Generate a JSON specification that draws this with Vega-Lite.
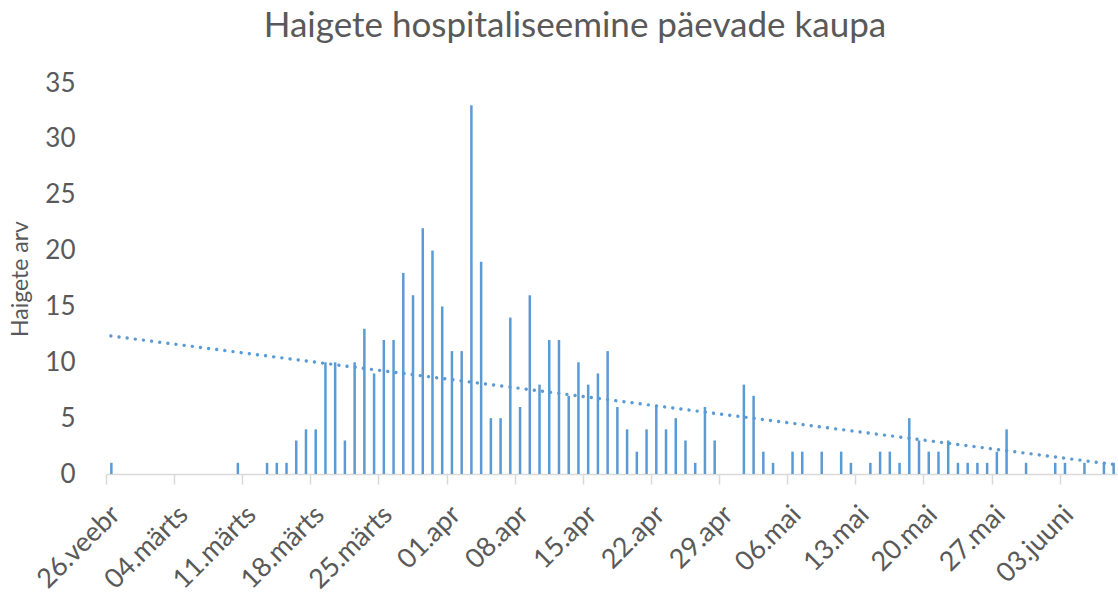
{
  "$schema": "https://vega.github.io/schema/vega-lite/v6.json",
  "autosize": "none",
  "width": 1012,
  "height": 391,
  "padding": {"left": 106, "top": 83, "right": 0, "bottom": 120},
  "background": "white",
  "config": {"view": {"stroke": null}, "font": "Lato"},
  "title": {"text": "Haigete hospitaliseemine päevade kaupa", "font": "Lato", "fontSize": 35, "fontWeight": "normal", "color": "#595959", "anchor": "middle", "dx": -37, "offset": 26},
  "data": {"values": [
    {"date": "2020-02-26", "value": 1},
    {"date": "2020-03-10", "value": 1},
    {"date": "2020-03-13", "value": 1},
    {"date": "2020-03-14", "value": 1},
    {"date": "2020-03-15", "value": 1},
    {"date": "2020-03-16", "value": 3},
    {"date": "2020-03-17", "value": 4},
    {"date": "2020-03-18", "value": 4},
    {"date": "2020-03-19", "value": 10},
    {"date": "2020-03-20", "value": 10},
    {"date": "2020-03-21", "value": 3},
    {"date": "2020-03-22", "value": 10},
    {"date": "2020-03-23", "value": 13},
    {"date": "2020-03-24", "value": 9},
    {"date": "2020-03-25", "value": 12},
    {"date": "2020-03-26", "value": 12},
    {"date": "2020-03-27", "value": 18},
    {"date": "2020-03-28", "value": 16},
    {"date": "2020-03-29", "value": 22},
    {"date": "2020-03-30", "value": 20},
    {"date": "2020-03-31", "value": 15},
    {"date": "2020-04-01", "value": 11},
    {"date": "2020-04-02", "value": 11},
    {"date": "2020-04-03", "value": 33},
    {"date": "2020-04-04", "value": 19},
    {"date": "2020-04-05", "value": 5},
    {"date": "2020-04-06", "value": 5},
    {"date": "2020-04-07", "value": 14},
    {"date": "2020-04-08", "value": 6},
    {"date": "2020-04-09", "value": 16},
    {"date": "2020-04-10", "value": 8},
    {"date": "2020-04-11", "value": 12},
    {"date": "2020-04-12", "value": 12},
    {"date": "2020-04-13", "value": 7},
    {"date": "2020-04-14", "value": 10},
    {"date": "2020-04-15", "value": 8},
    {"date": "2020-04-16", "value": 9},
    {"date": "2020-04-17", "value": 11},
    {"date": "2020-04-18", "value": 6},
    {"date": "2020-04-19", "value": 4},
    {"date": "2020-04-20", "value": 2},
    {"date": "2020-04-21", "value": 4},
    {"date": "2020-04-22", "value": 6},
    {"date": "2020-04-23", "value": 4},
    {"date": "2020-04-24", "value": 5},
    {"date": "2020-04-25", "value": 3},
    {"date": "2020-04-26", "value": 1},
    {"date": "2020-04-27", "value": 6},
    {"date": "2020-04-28", "value": 3},
    {"date": "2020-05-01", "value": 8},
    {"date": "2020-05-02", "value": 7},
    {"date": "2020-05-03", "value": 2},
    {"date": "2020-05-04", "value": 1},
    {"date": "2020-05-06", "value": 2},
    {"date": "2020-05-07", "value": 2},
    {"date": "2020-05-09", "value": 2},
    {"date": "2020-05-11", "value": 2},
    {"date": "2020-05-12", "value": 1},
    {"date": "2020-05-14", "value": 1},
    {"date": "2020-05-15", "value": 2},
    {"date": "2020-05-16", "value": 2},
    {"date": "2020-05-17", "value": 1},
    {"date": "2020-05-18", "value": 5},
    {"date": "2020-05-19", "value": 3},
    {"date": "2020-05-20", "value": 2},
    {"date": "2020-05-21", "value": 2},
    {"date": "2020-05-22", "value": 3},
    {"date": "2020-05-23", "value": 1},
    {"date": "2020-05-24", "value": 1},
    {"date": "2020-05-25", "value": 1},
    {"date": "2020-05-26", "value": 1},
    {"date": "2020-05-27", "value": 2},
    {"date": "2020-05-28", "value": 4},
    {"date": "2020-05-30", "value": 1},
    {"date": "2020-06-02", "value": 1},
    {"date": "2020-06-03", "value": 1},
    {"date": "2020-06-05", "value": 1},
    {"date": "2020-06-07", "value": 1},
    {"date": "2020-06-08", "value": 1}
  ], "format": {"parse": {"date": "date"}}},
  "layer": [
    {
      "mark": {"type": "bar", "color": "#5B9BD5", "width": {"band": 0.36}},
      "encoding": {
        "x": {
          "field": "date", "type": "temporal", "timeUnit": "utcyearmonthdate",
          "scale": {"type": "utc", "domain": [{"year": 2020, "month": 2, "date": 26, "utc": true}, {"year": 2020, "month": 6, "date": 9, "utc": true}]},
          "axis": {
            "title": null, "grid": false,
            "values": [
              {"year": 2020, "month": 2, "date": 26, "utc": true},
              {"year": 2020, "month": 3, "date": 4, "utc": true},
              {"year": 2020, "month": 3, "date": 11, "utc": true},
              {"year": 2020, "month": 3, "date": 18, "utc": true},
              {"year": 2020, "month": 3, "date": 25, "utc": true},
              {"year": 2020, "month": 4, "date": 1, "utc": true},
              {"year": 2020, "month": 4, "date": 8, "utc": true},
              {"year": 2020, "month": 4, "date": 15, "utc": true},
              {"year": 2020, "month": 4, "date": 22, "utc": true},
              {"year": 2020, "month": 4, "date": 29, "utc": true},
              {"year": 2020, "month": 5, "date": 6, "utc": true},
              {"year": 2020, "month": 5, "date": 13, "utc": true},
              {"year": 2020, "month": 5, "date": 20, "utc": true},
              {"year": 2020, "month": 5, "date": 27, "utc": true},
              {"year": 2020, "month": 6, "date": 3, "utc": true}
            ],
            "labelExpr": "utcFormat(datum.value, '%d') + '.' + ['jaan','veebr','märts','apr','mai','juuni','juuli'][utcmonth(datum.value)]",
            "labelAngle": -45, "labelAlign": "right", "labelBaseline": "top",
            "labelFont": "Lato", "labelFontSize": 27, "labelColor": "#595959",
            "labelPadding": 17, "labelOverlap": false, "labelFlush": false, "labelBound": false,
            "domainColor": "#D9D9D9", "domainWidth": 1.5,
            "tickColor": "#D9D9D9", "tickWidth": 1.5, "tickSize": 10
          }
        },
        "y": {
          "field": "value", "type": "quantitative",
          "scale": {"domain": [0, 35], "nice": false},
          "axis": {
            "title": "Haigete arv", "titleFont": "Lato", "titleFontSize": 23, "titleFontWeight": "normal", "titleColor": "#595959", "titlePadding": 12,
            "values": [0, 5, 10, 15, 20, 25, 30, 35],
            "grid": false, "domain": false, "ticks": false,
            "labelFont": "Lato", "labelFontSize": 26, "labelColor": "#595959", "labelPadding": 31
          }
        }
      }
    },
    {
      "transform": [{"regression": "value", "on": "date"}],
      "mark": {"type": "line", "color": "#5B9BD5", "strokeWidth": 3.4, "strokeCap": "round", "strokeDash": [0.01, 8.2]},
      "encoding": {
        "x": {"field": "date", "type": "temporal", "timeUnit": "utcyearmonthdate", "bandPosition": 0.5},
        "y": {"field": "value", "type": "quantitative"}
      }
    }
  ]
}
